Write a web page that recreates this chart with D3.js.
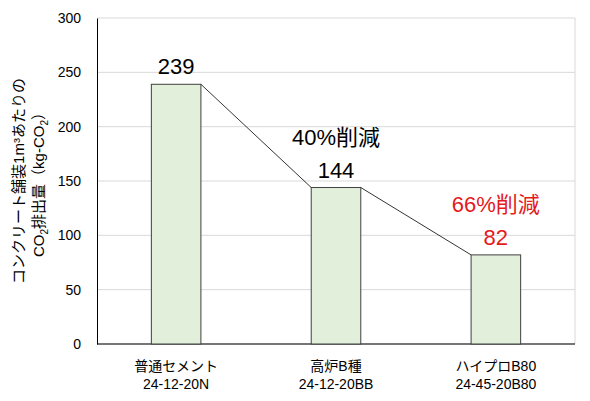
<!DOCTYPE html>
<html><head><meta charset="utf-8">
<script src="https://cdn.jsdelivr.net/npm/d3@7"></script>
<style>body{margin:0;background:#fff}text{font-family:"Liberation Sans","Noto Sans CJK JP",sans-serif}</style>
</head><body><svg width="590" height="401"></svg>
<script>
const categories = ['普通セメント', '高炉B種', 'ハイプロB80'];
const codes = ['24-12-20N', '24-12-20BB', '24-45-20B80'];
const values = [239, 144, 82];
const reductions = [null, '40%削減', '66%削減'];
const yTicks = [0, 50, 100, 150, 200, 250, 300];

const svg = d3.select('svg');
const m = {left: 97, right: 575, top: 18, bottom: 344};

const x = d3.scaleBand().domain(categories).range([m.left, m.right]).paddingInner(0.69).paddingOuter(0.34);
const y = d3.scaleLinear().domain([0, 300]).range([m.bottom, m.top]);

// gridlines
svg.selectAll('.grid').data(yTicks).enter().append('line')
  .attr('x1', m.left).attr('x2', m.right)
  .attr('y1', d => y(d)).attr('y2', d => y(d))
  .attr('stroke', '#d9d9d9');
svg.append('line').attr('x1', m.right).attr('x2', m.right).attr('y1', m.top).attr('y2', m.bottom).attr('stroke', '#d9d9d9');

// y axis
const yAxis = svg.append('g').attr('transform', `translate(${m.left},0)`)
  .call(d3.axisLeft(y).tickValues(yTicks).tickSize(0).tickPadding(16));
yAxis.select('.domain').attr('stroke', '#000');
yAxis.selectAll('text').attr('font-size', 14).attr('fill', '#000');
svg.append('line').attr('x1', m.left).attr('x2', m.right).attr('y1', m.bottom).attr('y2', m.bottom).attr('stroke', '#000');

// connector lines
const segs = d3.pairs(values.map((v, i) => ({c: categories[i], v})));
svg.selectAll('.conn').data(segs).enter().append('line')
  .attr('x1', d => x(d[0].c) + x.bandwidth()).attr('y1', d => y(d[0].v))
  .attr('x2', d => x(d[1].c)).attr('y2', d => y(d[1].v))
  .attr('stroke', '#000').attr('stroke-width', 0.8);

// bars
svg.selectAll('.bar').data(values).enter().append('rect')
  .attr('x', (d, i) => x(categories[i])).attr('width', x.bandwidth())
  .attr('y', d => y(d)).attr('height', d => y(0) - y(d))
  .attr('fill', '#e2efda').attr('stroke', '#404040').attr('stroke-width', 1);

// value labels
const col = i => i === 2 ? '#e41a1c' : '#000';
svg.selectAll('.val').data(values).enter().append('text')
  .attr('x', (d, i) => x(categories[i]) + x.bandwidth() / 2)
  .attr('y', d => y(d) - 10).attr('text-anchor', 'middle')
  .attr('font-size', 22).attr('fill', (d, i) => col(i)).text(d => d);
const redIdx = d3.range(values.length).filter(i => reductions[i]);
svg.selectAll('.red').data(redIdx).enter().append('text')
  .attr('x', i => x(categories[i]) + x.bandwidth() / 2)
  .attr('y', i => y(values[i]) - 43).attr('text-anchor', 'middle')
  .attr('font-size', 22).attr('fill', i => col(i)).text(i => reductions[i]);

// x labels
categories.forEach((c, i) => {
  const t = svg.append('text').attr('x', x(c) + x.bandwidth() / 2).attr('y', 371)
    .attr('text-anchor', 'middle').attr('font-size', 14).attr('fill', '#000');
  t.append('tspan').attr('x', x(c) + x.bandwidth() / 2).text(c);
  t.append('tspan').attr('x', x(c) + x.bandwidth() / 2).attr('dy', 18).text(codes[i]);
});

// y title
const yt = svg.append('text').attr('transform', 'translate(24,181) rotate(-90)')
  .attr('text-anchor', 'middle').attr('font-size', 15).attr('fill', '#000');
yt.append('tspan').attr('x', 0).text('コンクリート舗装1m³あたりの');
const l2 = yt.append('tspan').attr('x', 0).attr('dy', 20);
l2.append('tspan').text('CO');
l2.append('tspan').attr('font-size', 10).attr('dy', 4).text('2');
l2.append('tspan').attr('dy', -4).text('排出量（kg-CO');
l2.append('tspan').attr('font-size', 10).attr('dy', 4).text('2');
l2.append('tspan').attr('dy', -4).text('）');
</script></body></html>
